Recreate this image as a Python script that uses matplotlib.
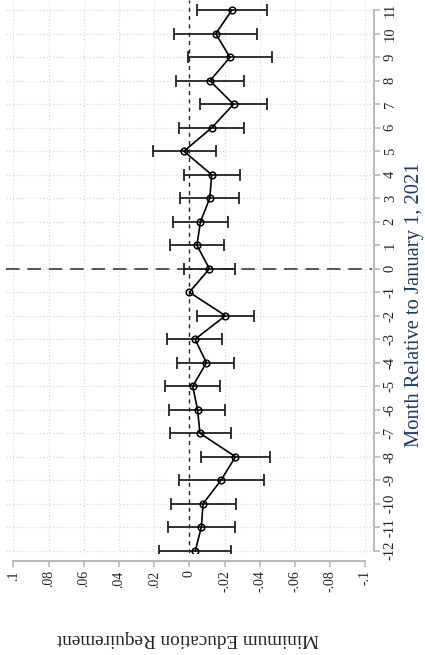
import numpy as np
import matplotlib
matplotlib.use("Agg")
import matplotlib.pyplot as plt

months = [-12, -11, -10, -9, -8, -7, -6, -5, -4, -3, -2, -1,
          0, 1, 2, 3, 4, 5, 6, 7, 8, 9, 10, 11]
coef = [-0.0034, -0.0068, -0.0078, -0.0180, -0.0262, -0.0060, -0.0047, -0.0019,
        -0.0097, -0.0032, -0.0205, 0.0,
        -0.0114, -0.0043, -0.0063, -0.0116, -0.0127, 0.0031, -0.0127, -0.0251,
        -0.0117, -0.0231, -0.0150, -0.0241]
ci_low = [-0.0237, -0.0260, -0.0266, -0.0427, -0.0458, -0.0235, -0.0205, -0.0177,
          -0.0256, -0.0188, -0.0365, np.nan,
          -0.0258, -0.0195, -0.0220, -0.0281, -0.0287, -0.0150, -0.0311, -0.0440,
          -0.0313, -0.0471, -0.0385, -0.0439]
ci_high = [0.0171, 0.0120, 0.0107, 0.0057, -0.0064, 0.0112, 0.0114, 0.0137,
           0.0071, 0.0129, -0.0042, np.nan,
           0.0031, 0.0108, 0.0093, 0.0054, 0.0032, 0.0209, 0.0057, -0.0060,
           0.0076, 0.0006, 0.0089, -0.0046]
coef_ticks = [0.1, 0.08, 0.06, 0.04, 0.02, 0.0, -0.02, -0.04, -0.06, -0.08, -0.1]
coef_labels = [".1", ".08", ".06", ".04", ".02", "0", "-.02", "-.04", "-.06", "-.08", "-.1"]
month_labels = [str(m) for m in months]
x_title = "Minimum Education Requirement"
y_title = "Month Relative to January 1, 2021"

plt.rcParams['font.family'] = ['Liberation Serif', 'DejaVu Serif']

W, H = 425, 655
fig = plt.figure(figsize=(W / 100, H / 100), dpi=100)
fig.patch.set_facecolor('white')
ax = fig.add_axes([6 / W, 1 - 553 / H, (372 - 6) / W, 553 / H])

c = np.array(coef)
lo = np.array(ci_low)
hi = np.array(ci_high)
m = np.array(months)

# gridlines
for t in coef_ticks:
    if t != 0:
        ax.axvline(t, color='#d4d4d4', lw=0.8, ls=(0, (1, 2)), zorder=0)
for mm in months:
    ax.axhline(mm, color='#d4d4d4', lw=0.8, ls=(0, (1, 2)), zorder=0)

ax.axvline(0, color='#222222', lw=1.0, ls=(0, (3, 3)), zorder=1)
ax.axhline(0, color='#555555', lw=1.4, ls=(0, (7, 4)), zorder=1)

ax.errorbar(c, m, xerr=[c - lo, hi - c], fmt='none', ecolor='#222222',
            elinewidth=1.3, capsize=4.3, capthick=1.3, zorder=2)
ax.plot(c, m, color='black', lw=1.2, marker='o', markersize=4.8,
        markerfacecolor='none', markeredgecolor='black', markeredgewidth=1.1, zorder=3)

ax.set_xlim(0.1042, -0.1038)
ax.set_ylim(-12.098, 11.438)

for s in ['left', 'top']:
    ax.spines[s].set_visible(False)
ax.spines['bottom'].set_position(('outward', 5.5))
ax.spines['right'].set_position(('outward', 1.5))
ax.spines['bottom'].set_bounds(0.1, -0.1)
ax.spines['right'].set_bounds(-12, 11)
for s in ['bottom', 'right']:
    ax.spines[s].set_color('#b8b8b8')
    ax.spines[s].set_linewidth(1.4)

ax.yaxis.tick_right()
ax.set_xticks(coef_ticks)
ax.set_xticklabels(coef_labels, rotation=90, fontsize=10, color='#222222')
ax.set_yticks(months)
ax.set_yticklabels(month_labels, rotation=90, fontsize=10.5, color='#222222', va='center')
ax.tick_params(axis='both', length=4, width=1.2, color='#b8b8b8', pad=3)

fig.text(415 / W, 1 - 305 / H, y_title, rotation=90, ha='center', va='center',
         fontsize=14.8, color='#1a3a66')
fig.text(188 / W, 1 - 638 / H, x_title, rotation=180, ha='center', va='center',
         fontsize=13.8, color='#222222')

fig.savefig('out.png', dpi=100)
